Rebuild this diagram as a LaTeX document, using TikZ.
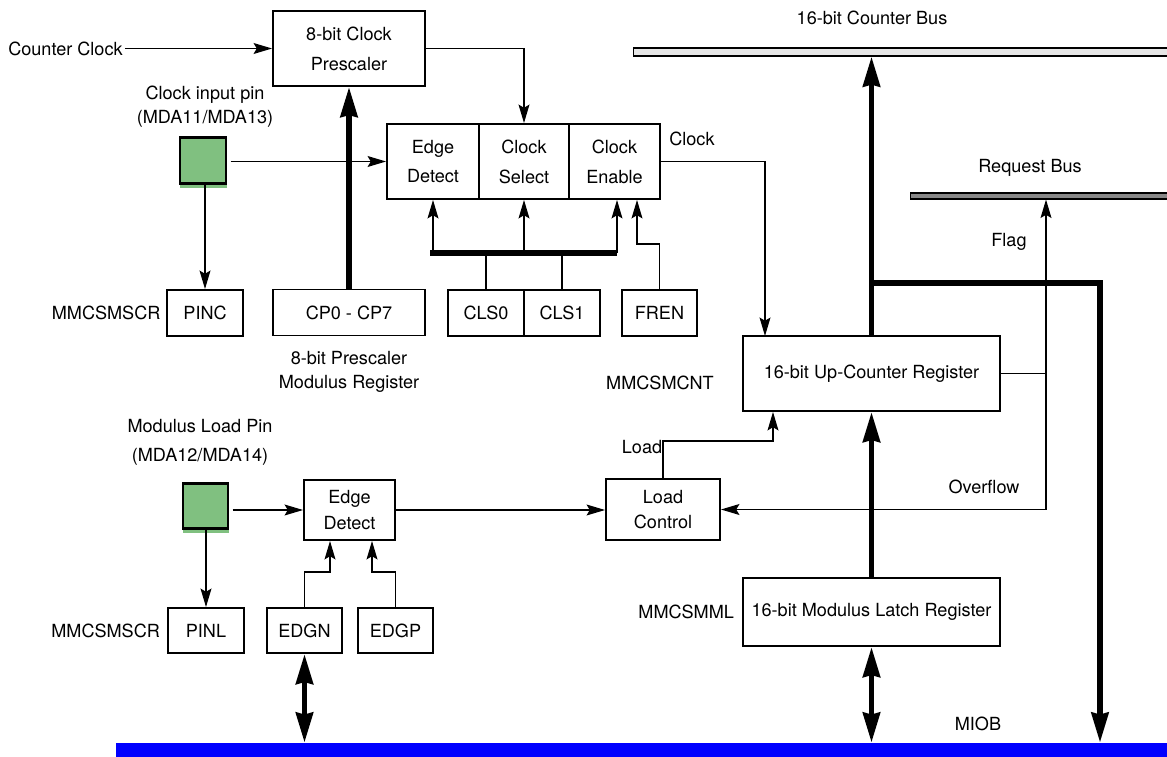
\documentclass[tikz,border=0pt]{standalone}
\usepackage{fontspec}
\setmainfont{TeX Gyre Heros}
\usetikzlibrary{arrows.meta,positioning}
\definecolor{pingreen}{HTML}{80C080}
\definecolor{busgray}{HTML}{E6E6E6}
\definecolor{reqgray}{HTML}{888888}
\definecolor{miobblue}{HTML}{0000FF}

\begin{document}
\begin{tikzpicture}[x=0.02cm,y=-0.02cm, every node/.style={font=\fontsize{10.3}{13.6}\selectfont,align=center,inner sep=1pt}, box/.style={draw,line width=1.1pt,minimum height=1.5cm,font=\fontsize{10.3}{17}\selectfont}, reg/.style={draw,line width=1.1pt,minimum height=0.92cm,minimum width=1.52cm}, pin/.style={draw,line width=1.3pt,fill=pingreen,minimum size=0.92cm}, bus/.style={draw,line width=0.6pt,inner sep=0pt}, arr/.style={-{Stealth[length=10.5pt,width=6.2pt,inset=1.8pt]},line width=0.7pt}, wire/.style={line width=0.7pt}, fat/.style={line width=3.2pt}, fatarr/.style={fat,-{Stealth[length=17pt,width=9.6pt,inset=1pt]}}, fatboth/.style={fat,{Stealth[length=17pt,width=9.6pt,inset=1pt]}-{Stealth[length=17pt,width=9.6pt,inset=1pt]}}]
\useasboundingbox (0,0) rectangle (1167,757);
% buses
\node[bus,fill=busgray,minimum width=10.94cm,minimum height=0.16cm] (cbus) at (906.5,52) {};
\node at (872,18) {16-bit Counter Bus};
\node[bus,fill=reqgray,minimum width=5.4cm,minimum height=0.12cm] (rbus) at (1045,196) {};
\node at (1030,168) {Request Bus};
\node[fill=miobblue,inner sep=0pt,minimum width=21.28cm,minimum height=0.54cm] (miob) at (648,756.5) {};
\node at (978,724) {MIOB};
% clock path
\node (cclk) at (65.5,48.5) {Counter Clock};
\node[box,minimum width=3.04cm] (presc) at (349,48.5) {8-bit Clock\\Prescaler};
\node (pin1lbl) at (205,107) {Clock input pin\\(MDA11/MDA13)};
\node[pin] (pin1) at (203,160.5) {};
\fill[pingreen] ([shift={(1,0)}]pin1.south west) rectangle ([shift={(0,3)}]pin1.south east);
\node[box,minimum width=1.84cm] (edge1) at (433,161.5) {Edge\\Detect};
\node[box,minimum width=1.8cm] (csel) at (524,161.5) {Clock\\Select};
\node[box,minimum width=1.82cm] (cen) at (614.5,161.5) {Clock\\Enable};
\node[reg] (pinc) at (205,313) {PINC};
\node[left=2pt of pinc] {MMCSMSCR};
\node[reg,minimum width=3.04cm] (cpx) at (349,312.5) {CP0 - CP7};
\node (cpxlbl) at (349,372) {8-bit Prescaler\\Modulus Register};
\node[reg] (cls0) at (486,313) {CLS0};
\node[reg] (cls1) at (562,313) {CLS1};
\node[reg,minimum width=1.5cm] (fren) at (659.5,313) {FREN};
\node (clklbl) at (692,139) {Clock};
% counter
\node[box,minimum width=5.14cm] (upc) at (871.5,373.5) {16-bit Up-Counter Register};
\node at (660,383) {MMCSMCNT};
\node[box,minimum width=5.14cm,minimum height=1.36cm] (mlat) at (871.5,612) {16-bit Modulus Latch Register};
\node[left=0.12cm of mlat] {MMCSMML};
\node[box,minimum width=2.28cm,minimum height=1.22cm,font=\fontsize{10.3}{14.5}\selectfont] (lctl) at (663,509.5) {Load\\Control};
\node at (642,447) {Load};
\node at (1009,242) {Flag};
\node at (984,487) {Overflow};
% modulus load path
\node[font=\fontsize{10.3}{16.4}\selectfont] (pin2lbl) at (200,442) {Modulus Load Pin\\(MDA12/MDA14)};
\node[pin,minimum size=0.9cm] (pin2) at (205.5,506) {};
\fill[pingreen] ([shift={(1,0)}]pin2.south west) rectangle ([shift={(0,3)}]pin2.south east);
\node[box,minimum width=1.82cm,minimum height=1.2cm,font=\fontsize{10.3}{15}\selectfont] (edge2) at (349.5,510) {Edge\\Detect};
\node[reg,minimum height=0.9cm] (pinl) at (206,630.5) {PINL};
\node[left=0.1cm of pinl] {MMCSMSCR};
\node[reg,minimum height=0.9cm,minimum width=1.5cm] (edgn) at (304.5,630.5) {EDGN};
\node[reg,minimum height=0.9cm,minimum width=1.5cm] (edgp) at (395.5,630.5) {EDGP};
\coordinate (barl) at (430,253); \coordinate (barr) at (617,253);
\coordinate (frenk) at (637,244); \coordinate (clkin) at (765,336);
\coordinate (flagj) at (1046,373.5); \coordinate (tap) at (871.5,283); \coordinate (tapr) at (1100,283);
\coordinate (ldk) at (773,441); \coordinate (ek1) at (330,572); \coordinate (ek2) at (372,572);
\draw[arr] (cclk.east) -- (presc.west);\draw[arr] (presc.east) -| (csel.north);
\draw[arr] ([xshift=2pt]pin1.east |- edge1.west) -- (edge1.west);\draw[arr] (pinc.north |- pin1.south) -- (pinc.north);
\draw[fatarr] (cpx.north) -- (presc.south);
\draw[fat] (barl) -- (barr);
\draw[arr] (edge1.south |- barl) -- (edge1.south);\draw[arr] (csel.south |- barl) -- (csel.south);\draw[arr] (barr) -- (barr |- cen.south);
\draw[wire] (cls0.north) -- (cls0.north |- barl);\draw[wire] (cls1.north) -- (cls1.north |- barl);
\draw[arr] (fren.north) |- (frenk) -- (frenk |- cen.south);
\draw[arr] (cen.east) -| (clkin);
\draw[fatarr] (upc.north) -- (upc.north |- cbus.south);
\draw[fatarr] (tap) -- (tapr) -- (tapr |- miob.north);
\draw[wire] (upc.east) -- (flagj);\draw[arr] (flagj) -- (flagj |- rbus.south);\draw[arr] (flagj) |- (lctl.east);
\draw[arr] (lctl.north) |- (ldk) -- (ldk |- upc.south);
\draw[fatarr] (mlat.north) -- (upc.south);\draw[fatboth] (mlat.south) -- (mlat.south |- miob.north);
\draw[arr] ([xshift=2pt]pin2.east |- edge2.west) -- (edge2.west);\draw[arr] (pinl.north |- pin2.south) -- (pinl.north);
\draw[arr] (edge2.east) -- (edge2.east -| lctl.west);
\draw[arr] (edgn.north) |- (ek1) -- (ek1 |- edge2.south);\draw[arr] (edgp.north) |- (ek2) -- (ek2 |- edge2.south);
\draw[fatboth] (edgn.south) -- (edgn.south |- miob.north);
\end{tikzpicture}
\end{document}
